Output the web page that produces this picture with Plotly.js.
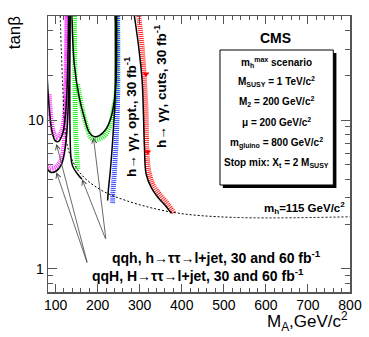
<!DOCTYPE html>
<html>
<head>
<meta charset="utf-8">
<script src="https://cdn.plot.ly/plotly-3.0.1.min.js"></script>
<style>
  html, body { margin: 0; padding: 0; background: #fff; }
  #myDiv { width: 369px; height: 337px; }
</style>
</head>
<body>
<div id="myDiv"></div>
<script>
// contours in the (M_A, tan beta) plane
var qqH1M  = [80, 84.8, 91.2, 99.1, 107, 116.5, 122.9, 127, 129.4, 130.8];
var qqH1Tb = [19.4, 12.2, 8.5, 7.27, 7.19, 8.05, 10.4, 15.7, 26.4, 50];
var qqH1bandM  = [84.8, 88.8, 96.7, 104.6, 115, 121.3, 124.6, 127];
var qqH1bandTb = [14.9, 10.4, 8.05, 7.65, 8.5, 11, 18.4, 50];

var qqH2M  = [80, 88.8, 100.7, 112.6, 120.5, 127, 130.8, 133.2, 134.1];
var qqH2Tb = [4.69, 4.46, 4.53, 4.94, 5.92, 8.49, 14.2, 30.8, 50];
var qqH2bandM  = [80, 88.8, 100.7, 112.6, 119, 123.5, 126.5, 128];
var qqH2bandTb = [4.95, 4.75, 4.85, 5.3, 6.4, 8.8, 15, 50];

var qqh1M  = [134.8, 136.5, 140.3, 152.2, 162.7];
var qqh1Tb = [50, 5.62, 4.94, 4.34, 4.0];
var qqh1bandM  = [145, 146, 147, 149, 151, 153];
var qqh1bandTb = [50, 20, 10, 7, 5.5, 4.7];

var qqh2M  = [139, 144.4, 156.3, 168.2, 180, 192, 204, 220, 231.9, 239.7, 243.8, 245.2];
var qqh2Tb = [50, 23.8, 14.2, 10.4, 8.27, 7.74, 7.86, 8.71, 10.4, 13.5, 18.4, 50];
var qqh2bandM  = [152.3, 172.3, 188, 212, 228, 239.7, 243.8, 245.7];
var qqh2bandTb = [17.4, 9.4, 7.45, 7.65, 8.93, 12.8, 14.9, 50];

var ggOptM  = [242, 241.4, 235.7, 230.2, 225.4, 223.8];
var ggOptTb = [50, 14.2, 7.27, 4.57, 3.36, 2.88];
var ggOptBandM  = [247.6, 247.6, 245.2, 242, 239, 235.7, 235.7];
var ggOptBandTb = [50, 14.9, 8.49, 5.62, 4.13, 3.04, 2.73];

var ggCutM  = [287.4, 297.7, 305.8, 308.9, 311.3, 315.3, 327.3, 343, 361.3, 374.9];
var ggCutTb = [50, 30.8, 18.4, 11, 6.56, 4.34, 3.53, 3.03, 2.66, 2.37];
var ggCutBandM  = [297.7, 305.8, 311.3, 315.3, 316.8, 321.5, 331, 347, 366.8, 382.8];
var ggCutBandTb = [50, 30.8, 18.4, 11, 6.56, 4.57, 3.72, 3.19, 2.73, 2.34];
var ggCutMarkM  = [315, 319];
var ggCutMarkTb = [20.4, 6.1];

var mh115M  = [111, 116.5, 124.5, 136.5, 160, 204, 267.6, 379, 521, 800];
var mh115Tb = [50, 18.4, 7.66, 5.63, 4.35, 3.44, 2.88, 2.40, 2.22, 2.24];

// label pointers: [target M, target tanb, start M, start tanb]
var qqhPointers = [[190, 7.65, 220, 1.56], [163, 4.0, 220, 1.56]];
var qqHPointers = [[102, 6.9, 176, 1.08], [102, 4.46, 176, 1.08]];

var xTicks = [100, 200, 300, 400, 500, 600, 700, 800];
var yTicks = [1, 10];
var yMinor = [0.7, 0.8, 0.9, 2, 3, 4, 5, 6, 7, 8, 9, 20, 30, 40, 50];

var boxLines = [
  'm<sub>h</sub><sup>max</sup> scenario',
  'M<sub>SUSY</sub> = 1 TeV/c<sup>2</sup>',
  'M<sub>2</sub> = 200 GeV/c<sup>2</sup>',
  'μ = 200 GeV/c<sup>2</sup>',
  'm<sub>gluino</sub> = 800 GeV/c<sup>2</sup>',
  'Stop mix: X<sub>t</sub> = 2 M<sub>SUSY</sub>'
];

function band(x, y, color) {
  return {x: x, y: y, type: 'scatter', mode: 'lines', hoverinfo: 'skip',
          line: {color: color, width: 5, dash: '1px,1px', shape: 'spline'}};
}
function curve(x, y) {
  return {x: x, y: y, type: 'scatter', mode: 'lines', hoverinfo: 'skip',
          line: {color: '#000', width: 1.5, shape: 'spline'}};
}

var data = [
  band(qqH1bandM, qqH1bandTb, '#ff30ff'),
  band(qqH2bandM, qqH2bandTb, '#ff30ff'),
  band(qqh1bandM, qqh1bandTb, '#22ee22'),
  band(qqh2bandM, qqh2bandTb, '#22ee22'),
  band(ggOptBandM, ggOptBandTb, '#3344ff'),
  band(ggCutBandM, ggCutBandTb, '#ff2020'),
  curve(qqH1M, qqH1Tb),
  curve(qqH2M, qqH2Tb),
  curve(qqh1M, qqh1Tb),
  curve(qqh2M, qqh2Tb),
  curve(ggOptM, ggOptTb),
  curve(ggCutM, ggCutTb),
  {x: ggCutMarkM, y: ggCutMarkTb, type: 'scatter', mode: 'markers', hoverinfo: 'skip',
   marker: {symbol: 'triangle-down', color: '#ff0000', size: 6}},
  {x: mh115M, y: mh115Tb, type: 'scatter', mode: 'lines', hoverinfo: 'skip',
   line: {color: '#000', width: 1, dash: '2px,2px', shape: 'spline'}}
];

var lg = Math.log10;
function label(x, y, text, size, opts) {
  var a = {xref: 'paper', yref: 'paper', x: x, y: y, text: text, showarrow: false,
           xanchor: 'center', yanchor: 'middle', font: {size: size}};
  for (var k in opts) a[k] = opts[k];
  return a;
}
function pointer(p) {
  return {x: p[0], y: lg(p[1]), ax: p[2], ay: lg(p[3]), axref: 'x', ayref: 'y', text: '',
          showarrow: true, arrowhead: 5, arrowsize: 1.2, arrowwidth: 0.8, arrowcolor: '#444'};
}

var annotations = [
  label(-0.11, 0.94, 'tanβ', 17, {textangle: -90}),
  label(1.0, -0.108, 'M<sub>A</sub>,GeV/c<sup>2</sup>', 17, {xanchor: 'right'}),
  label(0.2715, 0.634, '<b>h→ γγ, opt., 30 fb<sup>-1</sup></b>', 13.5, {textangle: -90}),
  label(0.373, 0.745, '<b>h→ γγ, cuts, 30 fb<sup>-1</sup></b>', 13.5, {textangle: -90}),
  label(0.752, 0.919, '<b>CMS</b>', 14),
  label(0.99, 0.303, '<b>m<sub>h</sub>=115 GeV/c<sup>2</sup></b>', 11.5, {xanchor: 'right'}),
  label(0.205, 0.128, '<b>qqh, h→ττ→l+jet, 30 and 60 fb<sup>-1</sup></b>', 14, {xanchor: 'left'}),
  label(0.139, 0.062, '<b>qqH, H→ττ→l+jet, 30 and 60 fb<sup>-1</sup></b>', 14, {xanchor: 'left'})
];
qqhPointers.concat(qqHPointers).forEach(function (p) { annotations.push(pointer(p)); });

var yBox = [0.83, 0.761, 0.692, 0.616, 0.54, 0.467];
boxLines.forEach(function (t, i) {
  annotations.push(label(0.757, yBox[i], '<b>' + t + '</b>', 10));
});

var layout = {
  width: 369,
  height: 337,
  margin: {l: 48, r: 19, t: 16, b: 45},
  paper_bgcolor: '#fff',
  plot_bgcolor: '#fff',
  showlegend: false,
  font: {family: 'Liberation Sans, Arial, sans-serif', color: '#000', size: 13},
  xaxis: {
    range: [82, 800], tickvals: xTicks, ticks: 'inside', ticklen: 8, tickcolor: '#555',
    showline: true, linecolor: '#555', linewidth: 1.5, mirror: 'allticks',
    showgrid: false, zeroline: false, tickfont: {size: 14},
    minor: {dtick: 20, ticks: 'inside', ticklen: 4, tickcolor: '#555', showgrid: false}
  },
  yaxis: {
    type: 'log', range: [lg(0.7), lg(50)], tickvals: yTicks, ticktext: ['1', '10'],
    ticks: 'inside', ticklen: 9, tickcolor: '#555',
    showline: true, linecolor: '#555', linewidth: 1.5, mirror: 'allticks',
    showgrid: false, zeroline: false, tickfont: {size: 14},
    minor: {tickvals: yMinor, ticks: 'inside', ticklen: 5, tickcolor: '#555', showgrid: false}
  },
  shapes: [
    {type: 'rect', xref: 'paper', yref: 'paper', x0: 0.579, x1: 0.955, y0: 0.377, y1: 0.866,
     fillcolor: '#000', line: {width: 0}},
    {type: 'rect', xref: 'paper', yref: 'paper', x0: 0.5695, x1: 0.9447, y0: 0.3877, y1: 0.8768,
     fillcolor: '#fff', line: {color: '#000', width: 1}}
  ],
  annotations: annotations
};

Plotly.newPlot('myDiv', data, layout, {displayModeBar: false, staticPlot: true});
</script>
</body>
</html>
